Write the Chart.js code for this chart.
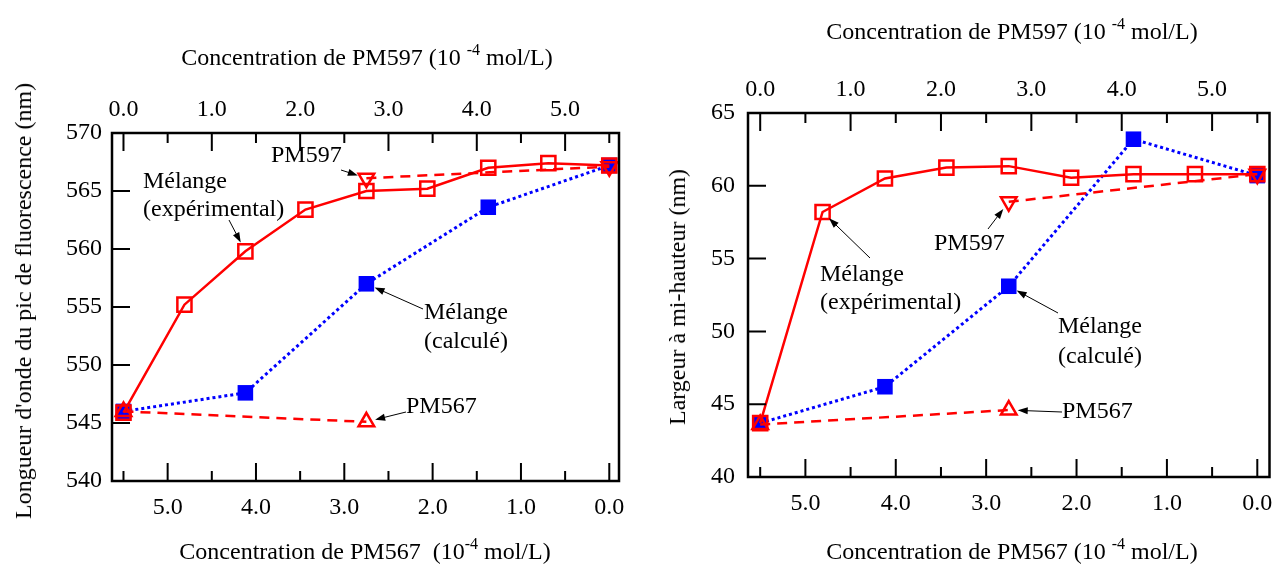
<!DOCTYPE html>
<html>
<head>
<meta charset="utf-8">
<title>PM567 / PM597</title>
<script src="https://cdn.jsdelivr.net/npm/chart.js@4.4.1/dist/chart.umd.min.js"></script>
<style>
    body { margin: 0; background: #fff; font-family: 'Liberation Serif', 'Times New Roman', serif; }
    #page { position: relative; width: 1282px; height: 565px; overflow: hidden; }
    canvas { position: absolute; top: 0; }
    #left-chart { left: 0; }
    #right-chart { left: 640px; }
    .title { position: absolute; font-size: 24px; line-height: 1; white-space: pre; color: #000;
             transform: translate(-50%, -50%); }
    .title.rot { transform: translate(-50%, -50%) rotate(-90deg); }
    .sup { font-size: 16px; position: relative; top: -10px; }
</style>
</head>
<body>
<div id="page">
    <canvas id="left-chart" width="640" height="565"></canvas>
    <canvas id="right-chart" width="642" height="565"></canvas>

    <div class="title" style="left:367px; top:57px;">Concentration de PM597 (10 <span class="sup">-4</span> mol/L)</div>
    <div class="title" style="left:365px; top:551px;">Concentration de PM567  (10<span class="sup">-4</span> mol/L)</div>
    <div class="title rot" style="left:23px; top:301px;">Longueur d'onde du pic de fluorescence (nm)</div>

    <div class="title" style="left:1012px; top:31px;">Concentration de PM597 (10 <span class="sup">-4</span> mol/L)</div>
    <div class="title" style="left:1012px; top:551px;">Concentration de PM567 (10 <span class="sup">-4</span> mol/L)</div>
    <div class="title rot" style="left:677px; top:297px;">Largeur à mi-hauteur (nm)</div>
</div>

<script>
const FONT = 'Liberation Serif';

// concentration of PM597 (top axis); PM567 = 5.5 - PM597 (bottom axis)
const totalConc = 5.5;
const mixConc = [0, 0.69, 1.38, 2.06, 2.75, 3.44, 4.13, 4.81, 5.5];
const calcConc = [0, 1.38, 2.75, 4.13, 5.5];
const pm597Conc = [2.75, 5.5];
const pm567Conc = [0, 2.75];

// tick marks / labels
const tickMarks = [0, 0.5, 1, 1.5, 2, 2.5, 3, 3.5, 4, 4.5, 5, 5.5];
const tickLabels = [0, 1, 2, 3, 4, 5];

// peak wavelength (nm)
const wlExp = [545.9, 555.2, 559.8, 563.4, 565.0, 565.2, 567.0, 567.4, 567.2];
const wlCalc = [546.0, 547.6, 557.0, 563.6, 567.2];
const wl597 = [566.1, 567.1];
const wl567 = [546.0, 545.1];

// FWHM (nm)
const fwExp = [43.7, 58.2, 60.5, 61.25, 61.35, 60.55, 60.8, 60.8, 60.8];
const fwCalc = [43.7, 46.2, 53.1, 63.2, 60.7];
const fw597 = [58.9, 60.8];
const fw567 = [43.6, 44.6];

const RED = '#ff0000';
const BLUE = '#0000ff';

function pts(xs, ys) {
    return xs.map((x, i) => ({ x: x, y: ys[i] }));
}

function makeDatasets(exp, calc, p597, p567) {
    // first dataset is drawn last (on top)
    return [
        { data: pts(pm597Conc, p597), borderColor: RED, borderWidth: 2.5, borderDash: [10, 7],
          pointStyle: 'triangle', rotation: 180, pointRadius: 9, pointBorderWidth: 2.5,
          pointBackgroundColor: 'rgba(0,0,0,0)', pointBorderColor: RED },
        { data: pts(pm567Conc, p567), borderColor: RED, borderWidth: 2.5, borderDash: [10, 7],
          pointStyle: 'triangle', pointRadius: 9, pointBorderWidth: 2.5,
          pointBackgroundColor: 'rgba(0,0,0,0)', pointBorderColor: RED },
        { data: pts(mixConc, exp), borderColor: RED, borderWidth: 2.5,
          pointStyle: 'rect', pointRadius: 10, pointBorderWidth: 2.5,
          pointBackgroundColor: 'rgba(0,0,0,0)', pointBorderColor: RED },
        { data: pts(calcConc, calc), borderColor: BLUE, borderWidth: 3, borderDash: [3, 3],
          pointStyle: 'rect', pointRadius: 11, pointBorderWidth: 0,
          pointBackgroundColor: BLUE, pointBorderColor: BLUE }
    ].map(d => Object.assign(d, { showLine: true, fill: false, clip: false, tension: 0 }));
}

// frame + inward ticks, drawn from the scales
const frameTicks = {
    id: 'frameTicks',
    afterDraw(chart) {
        const { ctx, chartArea: a, scales } = chart;
        ctx.save();
        ctx.strokeStyle = '#000';
        ctx.lineWidth = 2;
        ctx.beginPath();
        tickMarks.forEach(v => {
            const len = Number.isInteger(v) ? 18 : 10;
            const xt = scales.x.getPixelForValue(v);
            ctx.moveTo(xt, a.top); ctx.lineTo(xt, a.top + len);
            const xb = scales.x2.getPixelForValue(v);
            ctx.moveTo(xb, a.bottom); ctx.lineTo(xb, a.bottom - len);
        });
        scales.y.ticks.forEach(t => {
            const y = scales.y.getPixelForValue(t.value);
            ctx.moveTo(a.left, y); ctx.lineTo(a.left + 18, y);
        });
        ctx.stroke();
        ctx.lineWidth = 2.5;
        ctx.strokeRect(a.left, a.top, a.right - a.left, a.bottom - a.top);
        ctx.restore();
    }
};

function arrow(ctx, x0, y0, x1, y1, stop) {
    const ang = Math.atan2(y1 - y0, x1 - x0);
    const c = Math.cos(ang), s = Math.sin(ang);
    const ex = x1 - c * stop, ey = y1 - s * stop;
    ctx.beginPath();
    ctx.moveTo(x0, y0);
    ctx.lineTo(ex - c * 6, ey - s * 6);
    ctx.stroke();
    ctx.beginPath();
    ctx.moveTo(ex, ey);
    ctx.lineTo(ex - 10 * c + 3.5 * s, ey - 10 * s - 3.5 * c);
    ctx.lineTo(ex - 10 * c - 3.5 * s, ey - 10 * s + 3.5 * c);
    ctx.closePath();
    ctx.fill();
}

// text labels with arrows pointing to a data point
function notesPlugin(notes) {
    return {
        id: 'notes',
        afterDraw(chart) {
            const { ctx, scales } = chart;
            ctx.save();
            ctx.fillStyle = '#000';
            ctx.strokeStyle = '#000';
            ctx.lineWidth = 1;
            ctx.font = '24px "' + FONT + '"';
            ctx.textBaseline = 'middle';
            ctx.textAlign = 'left';
            notes.forEach(n => {
                n.lines.forEach((t, i) => ctx.fillText(t, n.x, n.y + i * n.gap));
                const px = scales.x.getPixelForValue(n.at[0]);
                const py = scales.y.getPixelForValue(n.at[1]);
                arrow(ctx, n.from[0], n.from[1], px, py, n.stop);
            });
            ctx.restore();
        }
    };
}

function makeChart(id, opts) {
    const tickFont = { family: FONT, size: 24 };
    return new Chart(document.getElementById(id), {
        type: 'scatter',
        data: { datasets: makeDatasets(opts.exp, opts.calc, opts.p597, opts.p567) },
        options: {
            responsive: false,
            animation: false,
            events: [],
            layout: { padding: { left: 0, right: opts.padRight, top: 0, bottom: 0 } },
            plugins: { legend: { display: false }, tooltip: { enabled: false } },
            scales: {
                x: {
                    type: 'linear', position: 'top', min: opts.xMin, max: opts.xMax,
                    grid: { display: false, drawTicks: false }, border: { display: false },
                    afterBuildTicks: s => { s.ticks = tickLabels.map(v => ({ value: v })); },
                    afterFit: s => { s.height = opts.top; },
                    ticks: { padding: 9, color: '#000', font: tickFont, autoSkip: false, maxRotation: 0,
                             callback: v => Number(v).toFixed(1) }
                },
                x2: {
                    type: 'linear', position: 'bottom', reverse: true,
                    min: totalConc - opts.xMax, max: totalConc - opts.xMin,
                    grid: { display: false, drawTicks: false }, border: { display: false },
                    afterBuildTicks: s => { s.ticks = tickLabels.map(v => ({ value: v })); },
                    afterFit: s => { s.height = opts.bottom; },
                    ticks: { padding: 12, color: '#000', font: tickFont, autoSkip: false, maxRotation: 0,
                             callback: v => Number(v).toFixed(1) }
                },
                y: {
                    type: 'linear', position: 'left', min: opts.yMin, max: opts.yMax,
                    grid: { display: false, drawTicks: false }, border: { display: false },
                    afterFit: s => { s.width = opts.left; },
                    ticks: { stepSize: 5, padding: opts.yPad, color: '#000', font: tickFont }
                }
            }
        },
        plugins: [frameTicks, notesPlugin(opts.notes)]
    });
}

makeChart('left-chart', {
    exp: wlExp, calc: wlCalc, p597: wl597, p567: wl567,
    xMin: -0.13, xMax: 5.61, yMin: 540, yMax: 570,
    left: 112, top: 133, bottom: 84, padRight: 21, yPad: 10,
    notes: [
        { lines: ['PM597'], x: 271, y: 156, gap: 0, from: [341, 170], at: [pm597Conc[0], wl597[0]], stop: 9 },
        { lines: ['Mélange', '(expérimental)'], x: 143, y: 182, gap: 28, from: [229, 220], at: [mixConc[2], wlExp[2]], stop: 10 },
        { lines: ['Mélange', '(calculé)'], x: 424, y: 313, gap: 29, from: [423, 309], at: [calcConc[2], wlCalc[2]], stop: 9 },
        { lines: ['PM567'], x: 406, y: 407, gap: 0, from: [406, 412], at: [pm567Conc[1], wl567[1]], stop: 9 }
    ]
});

makeChart('right-chart', {
    exp: fwExp, calc: fwCalc, p597: fw597, p567: fw567,
    xMin: -0.135, xMax: 5.635, yMin: 40, yMax: 65,
    left: 108, top: 113, bottom: 88, padRight: 7, yPad: 13,
    notes: [
        { lines: ['Mélange', '(expérimental)'], x: 180, y: 275, gap: 28, from: [230, 258], at: [mixConc[1], fwExp[1]], stop: 9 },
        { lines: ['PM597'], x: 294, y: 244, gap: 0, from: [348, 229], at: [pm597Conc[0], fw597[0]], stop: 9 },
        { lines: ['Mélange', '(calculé)'], x: 418, y: 327, gap: 30, from: [418, 313], at: [calcConc[2], fwCalc[2]], stop: 9 },
        { lines: ['PM567'], x: 422, y: 412, gap: 0, from: [422, 412], at: [pm567Conc[1], fw567[1]], stop: 9 }
    ]
});
</script>
</body>
</html>
